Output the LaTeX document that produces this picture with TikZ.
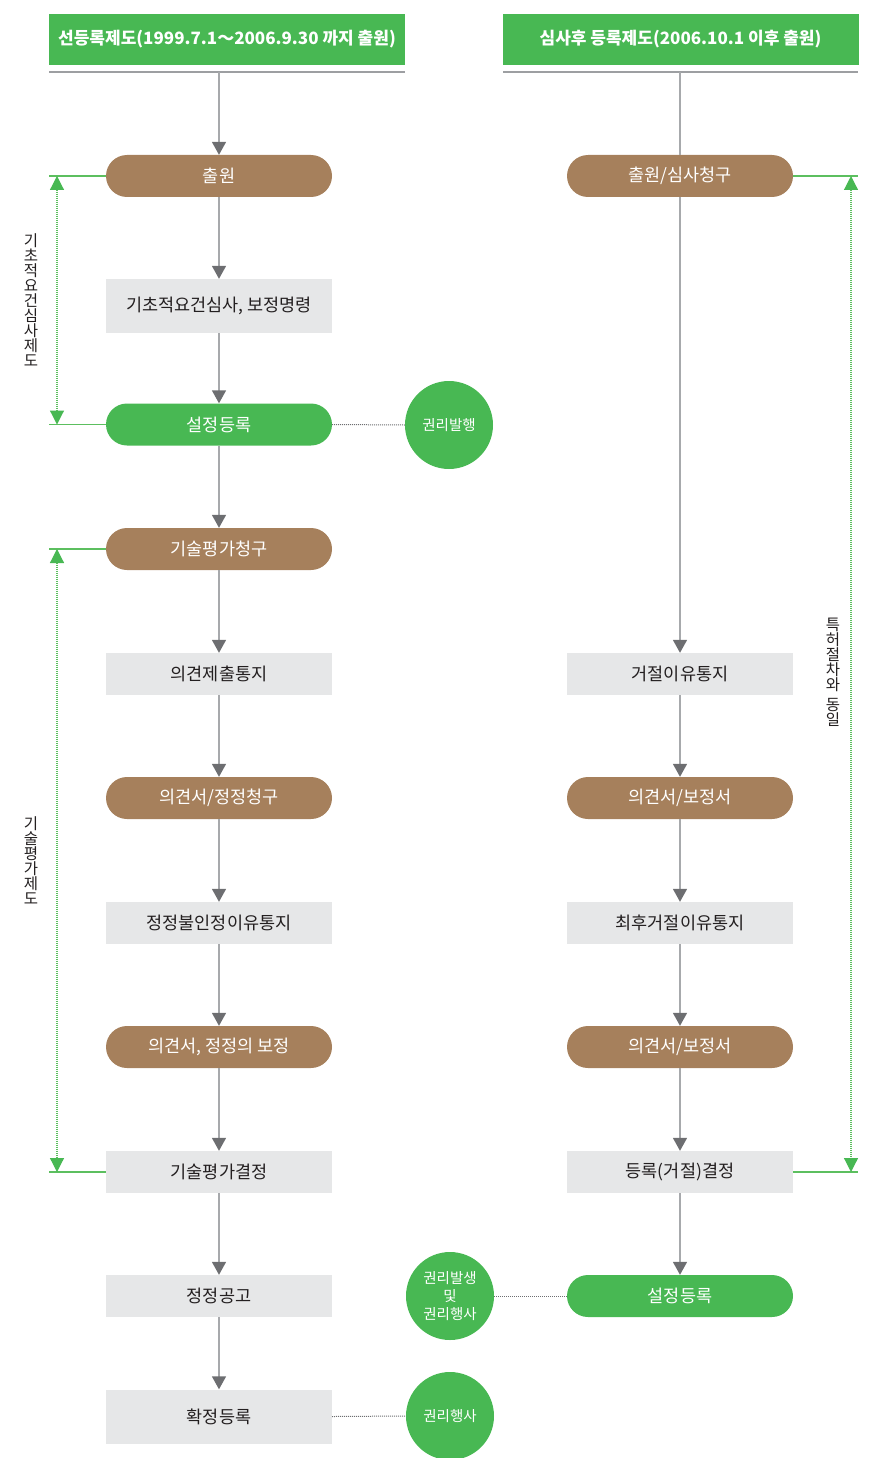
\documentclass[tikz,border=0pt]{standalone}
\usepackage{fontspec}
\setmainfont{Noto Sans CJK KR}
\usetikzlibrary{arrows.meta}
\definecolor{hdrgreen}{HTML}{48B853}
\definecolor{pillbrown}{HTML}{A6805C}
\definecolor{boxgray}{HTML}{E6E7E8}
\definecolor{linegray}{HTML}{A7A9AC}
\definecolor{tipgray}{HTML}{6D6E71}
\definecolor{rulegray}{HTML}{9D9FA2}
\definecolor{textdark}{HTML}{231F20}
\definecolor{bracketgreen}{HTML}{5CBF5F}

\begin{document}
\begin{tikzpicture}[x=1pt,y=-1pt,
  header/.style={fill=hdrgreen, text=white, minimum width=356pt, minimum height=51pt,
    inner sep=0, font=\fontsize{17}{20}\selectfont\bfseries},
  pill/.style={rounded corners=21pt, minimum width=226pt, minimum height=42pt,
    inner sep=0, text=white, font=\fontsize{17.5}{20}\selectfont},
  brownpill/.style={pill, fill=pillbrown},
  greenpill/.style={pill, fill=hdrgreen},
  graybox/.style={fill=boxgray, minimum width=226pt, minimum height=42pt, inner sep=0,
    text=textdark, font=\fontsize{17.5}{20}\selectfont},
  badge/.style={circle, fill=hdrgreen, minimum size=88pt, inner sep=0, text=white,
    align=center, font=\fontsize{14.5}{18}\selectfont},
  rule/.style={draw=rulegray, line width=1.5pt},
  feed/.style={draw=linegray, line width=1.6pt},
  flow/.style={feed, -{Triangle[width=14pt,length=13pt,color=tipgray]}},
  link/.style={draw=tipgray, line width=1pt, dash pattern=on 1pt off 1pt},
  tick/.style={draw=bracketgreen, line width=1.5pt},
  span/.style={draw=bracketgreen, line width=1.2pt, dash pattern=on 1pt off 1pt,
    {Triangle[width=14pt,length=14pt,color=hdrgreen]}-{Triangle[width=14pt,length=14pt,color=hdrgreen]}},
  sidelabel/.style={align=center, inner sep=0, text=textdark,
    font=\fontsize{15.5}{15}\selectfont}
]
\useasboundingbox (0,0) rectangle (868,1458);

% column headers
\node[header] (hL) at (227,39.5) {선등록제도(1999.7.1～2006.9.30 까지 출원)};
\node[header] (hR) at (680.5,39.5) {심사후 등록제도(2006.10.1 이후 출원)};
\draw[rule] (49,72) -- (405,72);
\draw[rule] (503,72) -- (858,72);
\coordinate (tL) at (219,72);
\coordinate (tR) at (680,72);

% left column: 선등록제도
\node[brownpill] (L1) at (219,176) {출원};
\node[graybox, minimum height=54pt] (L2) at (219,306) {기초적요건심사, 보정명령};
\node[greenpill] (L3) at (219,424.5) {설정등록};
\node[brownpill] (L4) at (219,549) {기술평가청구};
\node[graybox] (L5) at (219,674) {의견제출통지};
\node[brownpill] (L6) at (219,798) {의견서/정정청구};
\node[graybox] (L7) at (219,923) {정정불인정이유통지};
\node[brownpill] (L8) at (219,1047) {의견서, 정정의 보정};
\node[graybox] (L9) at (219,1172) {기술평가결정};
\node[graybox] (L10) at (219,1296) {정정공고};
\node[graybox, minimum height=54pt] (L11) at (219,1416.5) {확정등록};

% right column: 심사후 등록제도
\node[brownpill] (R1) at (680,176) {출원/심사청구};
\node[graybox] (R2) at (680,674) {거절이유통지};
\node[brownpill] (R3) at (680,798) {의견서/보정서};
\node[graybox] (R4) at (680,923) {최후거절이유통지};
\node[brownpill] (R5) at (680,1047) {의견서/보정서};
\node[graybox] (R6) at (680,1172) {등록(거절)결정};
\node[greenpill] (R7) at (680,1296) {설정등록};

% rights badges
\node[badge] (B1) at (449,425) {권리발행};
\node[badge] (B2) at (450,1296) {권리발생\\및\\권리행사};
\node[badge] (B3) at (450,1416) {권리행사};

% flow arrows
\draw[flow] (tL) -- (L1.north);
\draw[flow] (L1) -- (L2);
\draw[flow] (L2) -- (L3);
\draw[flow] (L3) -- (L4);
\draw[flow] (L4) -- (L5);
\draw[flow] (L5) -- (L6);
\draw[flow] (L6) -- (L7);
\draw[flow] (L7) -- (L8);
\draw[flow] (L8) -- (L9);
\draw[flow] (L9) -- (L10);
\draw[flow] (L10) -- (L11);

\draw[feed] (tR) -- (R1.north);
\draw[flow] (R1) -- (R2);
\draw[flow] (R2) -- (R3);
\draw[flow] (R3) -- (R4);
\draw[flow] (R4) -- (R5);
\draw[flow] (R5) -- (R6);
\draw[flow] (R6) -- (R7);

% dotted links to badges
\draw[link] (L3.east) -- (B1.west);
\draw[link] (B2.east) -- (R7.west);
\draw[link] (L11.east) -- (B3.west);

% range brackets
\coordinate (lx) at (49,0);
\coordinate (ls) at (57,0);
\coordinate (rx) at (858,0);
\coordinate (rs) at (851,0);

\draw[tick] (L1.west) -- (L1.west -| lx);
\draw[tick] (L3.west) -- (L3.west -| lx);
\draw[span] (L1.west -| ls) -- (L3.west -| ls);

\draw[tick] (L4.west) -- (L4.west -| lx);
\draw[tick] (L9.west) -- (L9.west -| lx);
\draw[span] (L4.west -| ls) -- (L9.west -| ls);

\draw[tick] (R1.east) -- (R1.east -| rx);
\draw[tick] (R6.east) -- (R6.east -| rx);
\draw[span] (R1.east -| rs) -- (R6.east -| rs);

\node[sidelabel] (S1) at (31,300) {기\\초\\적\\요\\건\\심\\사\\제\\도};
\node[sidelabel] (S2) at (31,861) {기\\술\\평\\가\\제\\도};
\node[sidelabel] (S3) at (833,672) {특\\허\\절\\차\\와\\[5pt]동\\일};
\end{tikzpicture}
\end{document}
